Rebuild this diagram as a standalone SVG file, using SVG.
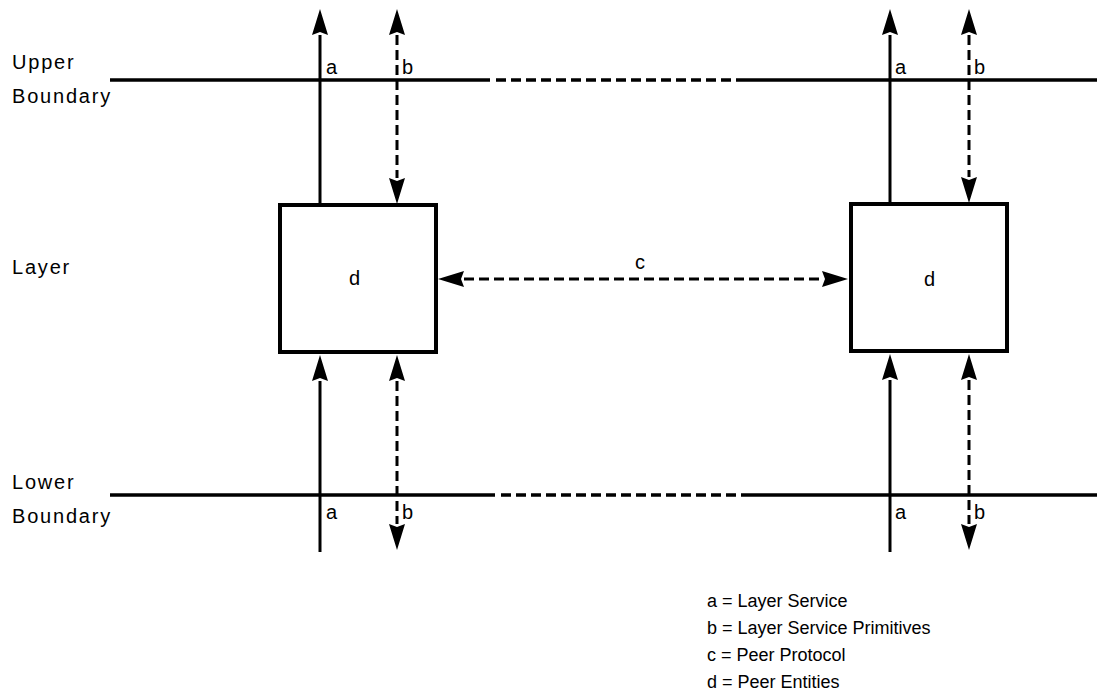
<svg xmlns="http://www.w3.org/2000/svg" width="1097" height="693" viewBox="0 0 1097 693">
<style>
text{font-family:"Liberation Sans",Arial,sans-serif;font-size:18px;fill:#000}
.side{font-size:20px;letter-spacing:1.8px}
.lbl{font-size:20px}
.bnd{stroke:#000;stroke-width:3.5;fill:none}
.bndd{stroke:#000;stroke-width:3.5;fill:none;stroke-dasharray:10 5}
.sol{stroke:#000;stroke-width:3;fill:none}
.dsh{stroke:#000;stroke-width:3;fill:none;stroke-dasharray:10 5}
.box{stroke:#000;stroke-width:4;fill:#fff}
</style>
<defs>
<marker id="ah" viewBox="0 0 26 16" refX="0" refY="8" markerWidth="26" markerHeight="16" markerUnits="userSpaceOnUse" orient="auto-start-reverse">
<path d="M0,0 L26,8 L0,16 L3,8 z" fill="#000"/>
</marker>
</defs>
<rect width="1097" height="693" fill="#fff"/>
<g id="labels">
<text class="side" x="12" y="69">Upper</text>
<text class="side" x="12" y="103">Boundary</text>
<text class="side" x="12" y="274">Layer</text>
<text class="side" x="12" y="489">Lower</text>
<text class="side" x="12" y="523">Boundary</text>
</g>
<g id="boundaries">
<line class="bnd" x1="110" y1="80" x2="490" y2="80"/>
<line class="bndd" x1="496" y1="80" x2="745" y2="80"/>
<line class="bnd" x1="745" y1="80" x2="1097" y2="80"/>
<line class="bnd" x1="110" y1="495" x2="495" y2="495"/>
<line class="bndd" x1="501" y1="495" x2="745" y2="495"/>
<line class="bnd" x1="745" y1="495" x2="1097" y2="495"/>
</g>
<g id="connectors">
<line class="sol" x1="320" y1="205" x2="320" y2="35" marker-end="url(#ah)"/>
<line class="dsh" x1="397" y1="35" x2="397" y2="178" marker-start="url(#ah)" marker-end="url(#ah)"/>
<line class="sol" x1="320" y1="552" x2="320" y2="381" marker-end="url(#ah)"/>
<line class="dsh" x1="397" y1="381" x2="397" y2="524" marker-start="url(#ah)" marker-end="url(#ah)"/>
<line class="sol" x1="890" y1="204" x2="890" y2="35" marker-end="url(#ah)"/>
<line class="dsh" x1="969" y1="35" x2="969" y2="177" marker-start="url(#ah)" marker-end="url(#ah)"/>
<line class="sol" x1="890" y1="552" x2="890" y2="380" marker-end="url(#ah)"/>
<line class="dsh" x1="969" y1="380" x2="969" y2="524" marker-start="url(#ah)" marker-end="url(#ah)"/>
<line class="dsh" x1="464" y1="279" x2="822" y2="279" marker-start="url(#ah)" marker-end="url(#ah)"/>
<text class="lbl" x="326" y="74">a</text>
<text class="lbl" x="402" y="74">b</text>
<text class="lbl" x="326" y="519">a</text>
<text class="lbl" x="402" y="519">b</text>
<text class="lbl" x="895" y="74">a</text>
<text class="lbl" x="974" y="74">b</text>
<text class="lbl" x="895" y="519">a</text>
<text class="lbl" x="974" y="519">b</text>
<text class="lbl" x="635" y="269">c</text>
</g>
<g id="node-left">
<rect class="box" x="280" y="205" width="156" height="147"/>
<text class="lbl" x="349" y="285">d</text>
</g>
<g id="node-right">
<rect class="box" x="851" y="204" width="156" height="147"/>
<text class="lbl" x="924" y="286">d</text>
</g>
<g id="legend">
<text x="707" y="607">a = Layer Service</text>
<text x="707" y="634">b = Layer Service Primitives</text>
<text x="707" y="661">c = Peer Protocol</text>
<text x="707" y="688">d = Peer Entities</text>
</g>
</svg>
